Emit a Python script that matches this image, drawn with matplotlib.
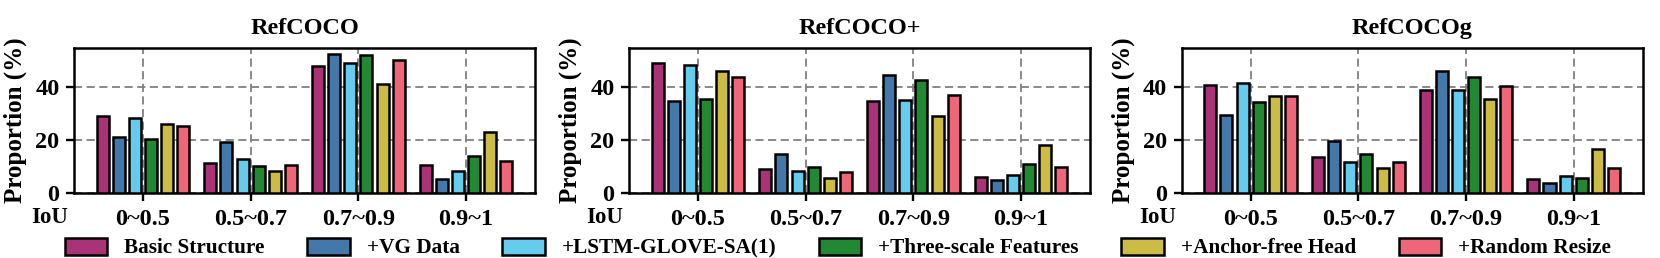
import numpy as np
import matplotlib
matplotlib.use("Agg")
import matplotlib.pyplot as plt

plt.rcParams["font.family"] = "serif"
plt.rcParams["font.serif"] = ["Liberation Serif", "DejaVu Serif"]
plt.rcParams["font.weight"] = "bold"
plt.rcParams["axes.labelweight"] = "bold"
plt.rcParams["axes.titleweight"] = "bold"

IOU_BINS = ["0~0.5", "0.5~0.7", "0.7~0.9", "0.9~1"]
DATASETS = ["RefCOCO", "RefCOCO+", "RefCOCOg"]
METHODS = [
    "Basic Structure",
    "+VG Data",
    "+LSTM-GLOVE-SA(1)",
    "+Three-scale Features",
    "+Anchor-free Head",
    "+Random Resize",
]
COLORS = ["#AA3377", "#4477AA", "#66CCEE", "#228833", "#CCBB44", "#EE6677"]

# proportion (%) per method, one value per IoU bin
refcoco = [
    [29.1, 11.4, 47.9, 10.8],
    [21.4, 19.4, 52.8, 5.3],
    [28.3, 13.0, 49.4, 8.4],
    [20.4, 10.4, 52.4, 14.0],
    [26.3, 8.3, 41.4, 23.1],
    [25.6, 10.6, 50.4, 12.1],
]
refcoco_plus = [
    [49.4, 9.0, 34.8, 6.1],
    [34.8, 14.8, 44.6, 5.0],
    [48.5, 8.4, 35.3, 7.0],
    [35.5, 9.8, 42.9, 11.1],
    [46.3, 5.6, 29.3, 18.1],
    [44.1, 8.0, 37.1, 10.1],
]
refcocog = [
    [41.0, 13.6, 39.1, 5.4],
    [29.5, 19.6, 46.3, 3.8],
    [41.6, 11.8, 39.1, 6.6],
    [34.3, 14.9, 43.9, 5.9],
    [36.6, 9.6, 35.8, 16.9],
    [36.8, 12.0, 40.5, 9.6],
]
ALL_DATA = [refcoco, refcoco_plus, refcocog]

W, H = 1660, 258
fig = plt.figure(figsize=(W / 100, H / 100), dpi=100)

lefts = [74, 629, 1181.7]
ax_w = 461
ax_top, ax_bot = 47.7, 193.3

x = np.arange(len(IOU_BINS))
pitch = 0.15
bar_w = 0.112

axes = []
for k, (name, data) in enumerate(zip(DATASETS, ALL_DATA)):
    ax = fig.add_axes([lefts[k] / W, 1 - ax_bot / H, ax_w / W, (ax_bot - ax_top) / H])
    for i, (method, vals) in enumerate(zip(METHODS, data)):
        ax.bar(
            x + (i - 2.5) * pitch,
            vals,
            width=bar_w,
            color=COLORS[i],
            edgecolor="black",
            linewidth=1.8,
            label=method,
            zorder=3,
        )
    ax.set_xlim(-0.64, 3.64)
    ax.set_ylim(0, 55)
    ax.set_xticks(x)
    ax.set_xticklabels(IOU_BINS)
    ax.set_yticks([0, 20, 40])
    ax.tick_params(axis="both", labelsize=17.5, width=1.7, length=5.5, pad=5)
    ax.tick_params(axis="x", pad=6)
    ax.grid(True, color="0.5", linestyle=(0, (4.5, 2.5)), linewidth=1.3, zorder=0)
    ax.set_axisbelow(True)
    for sp in ax.spines.values():
        sp.set_linewidth(1.8)
    ax.set_title(name, fontsize=17.5, pad=10)
    ax.set_ylabel("Proportion (%)", fontsize=18, labelpad=6)
    ax.text(-0.012, -0.204, "IoU", transform=ax.transAxes, ha="right",
            va="baseline", fontsize=16.5)
    axes.append(ax)

handles, labels = axes[0].get_legend_handles_labels()
fig.legend(
    handles,
    labels,
    loc="center",
    bbox_to_anchor=(838 / W, 1 - 248 / H),
    ncol=6,
    frameon=False,
    fontsize=15.3,
    handlelength=2.0,
    handleheight=0.85,
    handletextpad=0.8,
    columnspacing=2.0,
    borderpad=0,
)

fig.savefig("out.png", dpi=100)
